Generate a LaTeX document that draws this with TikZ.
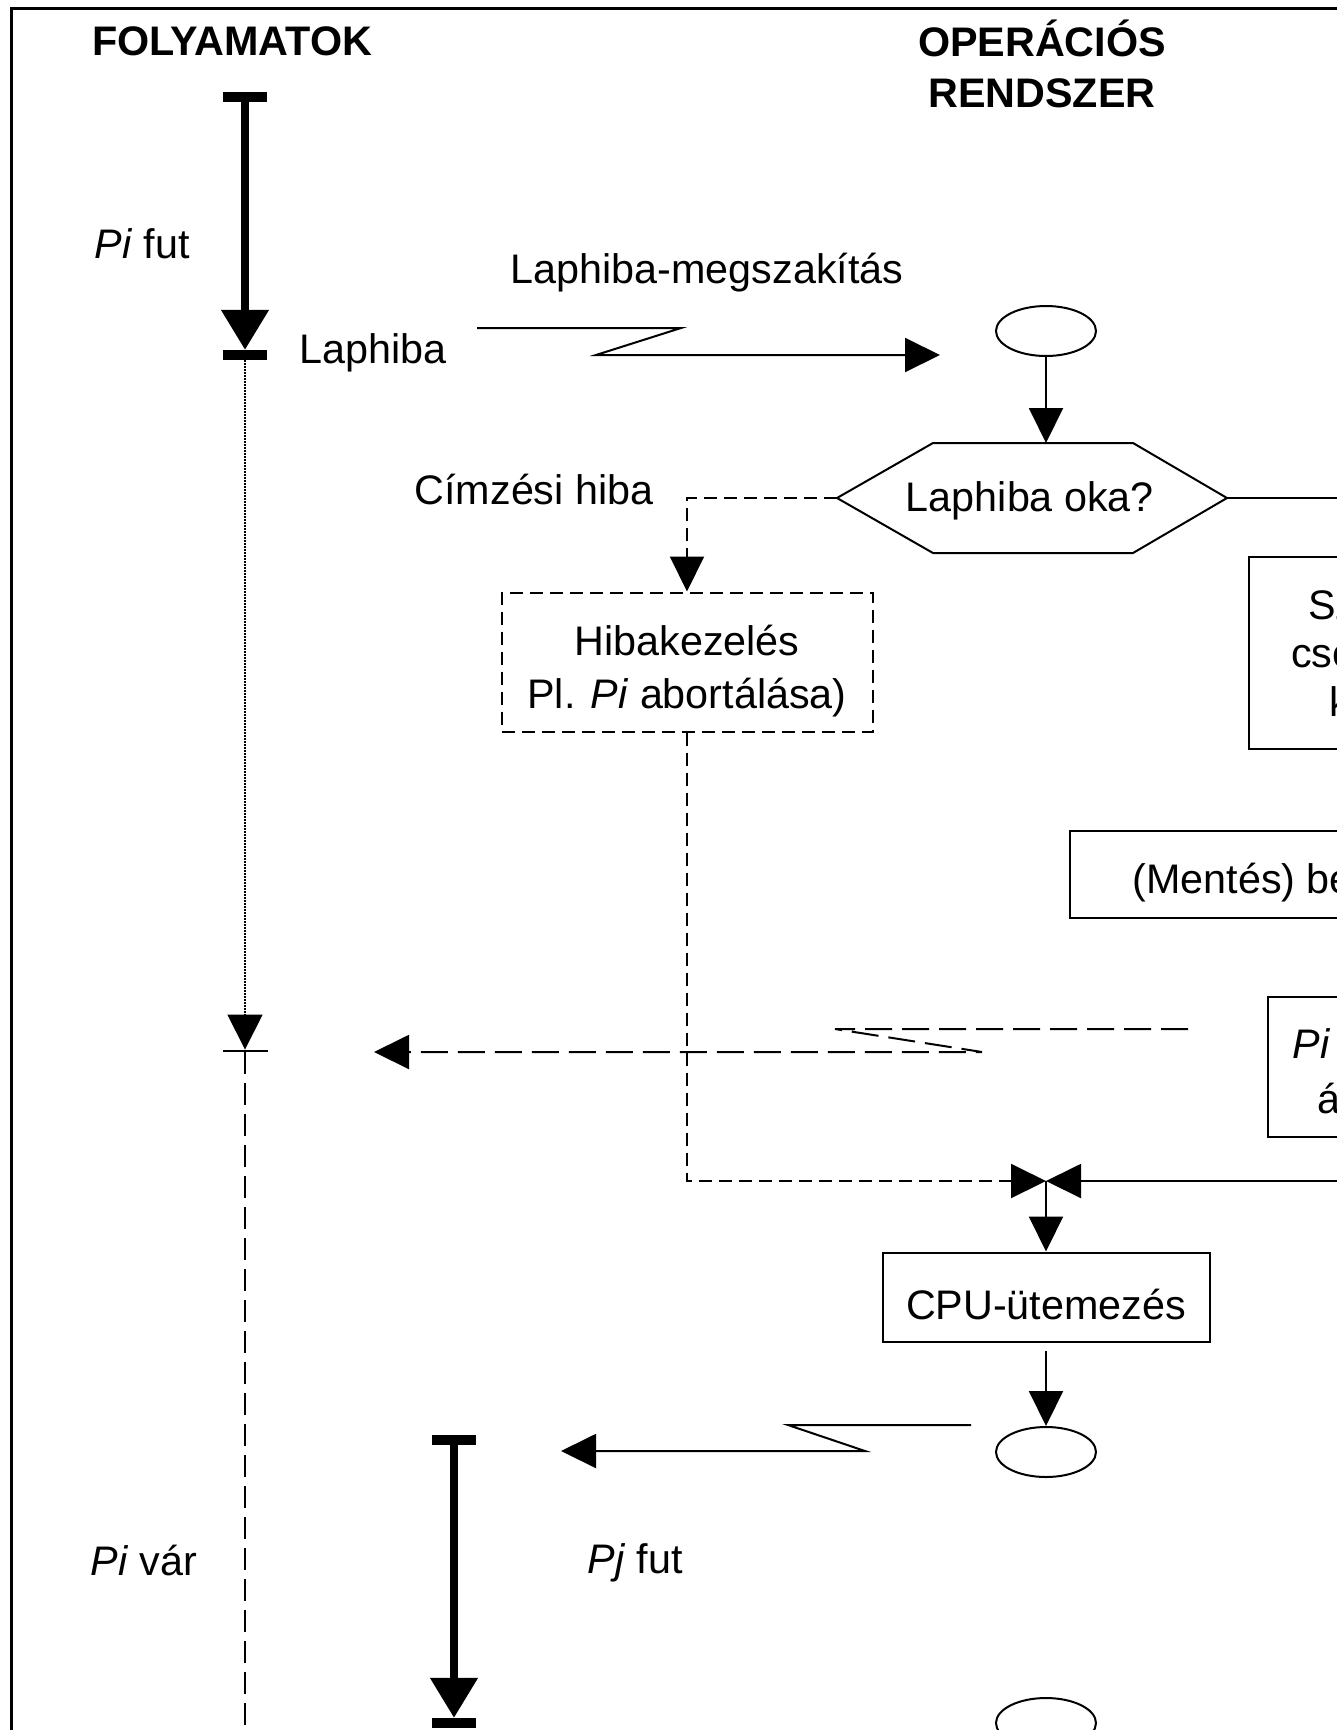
\documentclass[tikz,border=0pt]{standalone}
\usepackage{fontspec}
\setmainfont{Liberation Sans}
\usetikzlibrary{arrows.meta,shapes.geometric,positioning}

% box text, drawn a little lower than its frame's centre
\newcommand{\lowtext}[2]{\raisebox{#1}[\height][\depth]{#2}}
\newcommand{\boxlines}[3]{\lowtext{#1}{\begin{tabular}{@{}c@{}}#2\\#3\end{tabular}}}

\begin{document}
\begin{tikzpicture}[
        x=1pt, y=-1pt,
        every node/.style={font=\fontsize{41.3}{50}\selectfont},
        flow/.style={
                line width=2pt,
                -{Triangle[length=35pt,width=34pt]}
            },
        run line/.style={
                line width=8pt,
                -{Triangle[length=40pt,width=46pt]}
            },
        err line/.style={flow, dash pattern=on 13pt off 7pt},
        irq line/.style={flow, dash pattern=on 27pt off 10pt},
        proc box/.style={
                draw,
                line width=2pt,
                inner sep=0pt,
                align=center
            },
        err box/.style={proc box, dash pattern=on 13pt off 7pt},
        term/.style={
                draw,
                ellipse,
                line width=2pt,
                minimum width=100pt,
                minimum height=50pt,
                inner sep=0pt
            },
        stop bar/.style={
                fill=black,
                inner sep=0pt,
                minimum width=44pt,
                minimum height=10pt
            },
        head/.style={
                font=\fontsize{41.3}{51}\selectfont\bfseries,
                align=center
            }
    ]

    \useasboundingbox (0,0) rectangle (1337,1730);
    \clip (0,0) rectangle (1337,1730);

    % Frame
    \draw[line width=3pt] (11.5,1730) -- (11.5,8.5) -- (1337,8.5);

    % Column heads
    \node[head] (proc-head) at (232,41) {FOLYAMATOK};
    \node[head] (os-head) at (1042,64) {OPERÁCIÓS\\RENDSZER};

    % Process Pi
    \node[stop bar] (pi-start) at (245,97) {};
    \node[stop bar] (pi-fault) at (245,355) {};
    \node[fill=black, inner sep=0pt, minimum width=45pt, minimum height=2.5pt] (pi-resume) at (245,1051) {};
    \coordinate (pi-end) at (245,1730);
    \draw[run line] (pi-start) -- (pi-fault.north);
    \draw[line width=1.5pt, dash pattern=on 1.5pt off 1.5pt, -{Triangle[length=35pt,width=35pt]}] (pi-fault) -- (pi-resume.north);
    \draw[line width=2pt, dash pattern=on 22pt off 9pt] (pi-resume) -- (pi-end);
    \node[anchor=west] (pi-run-lbl) at (91,244) {\textit{Pi} fut};
    \node[anchor=west] (fault-lbl) at (296,353) {Laphiba};
    \node[anchor=west] (pi-wait-lbl) at (87,1560) {\textit{Pi} vár};

    % Process Pj
    \node[stop bar] (pj-start) at (454,1440) {};
    \node[stop bar] (pj-stop) at (454,1723) {};
    \draw[run line] (pj-start) -- (pj-stop.north);
    \node[anchor=west] (pj-run-lbl) at (584,1563) {\textit{Pj} fut};

    % Page fault interrupt
    \coordinate (irq-from) at (477,328);
    \coordinate (irq-to) at (940,355);
    \draw[flow] (irq-from) -- ++(204,0) -- ++(-85,27) -- (irq-to);
    \node (irq-lbl) at (707,273) {Laphiba-megszakítás};

    % OS side
    \node[term] (trap) at (1046,331) {};
    \node (cause) at (1030,501) {Laphiba oka?};
    \coordinate (cause-l) at (837,498);
    \coordinate (cause-r) at (1227,498);
    \coordinate (cause-top) at (1046,443);
    \draw[line width=2pt] (cause-l) -- (933,443) -- (1133,443) -- (cause-r)
        -- (1133,553) -- (933,553) -- cycle;
    \draw[flow] (trap) -- (cause-top);

    \node (addr-lbl) at (534,489) {Címzési hiba};
    \node[err box, minimum width=371pt, minimum height=139pt,
        font=\fontsize{41.3}{53}\selectfont] (fix) at (687,662)
        {\boxlines{-9pt}{Hibakezelés}{Pl. \textit{Pi} abortálása)}};
    \draw[err line] (cause-l) -| (fix.north);

    \node[proc box, minimum width=362pt, minimum height=192pt,
        font=\fontsize{41.3}{48.5}\selectfont] (swap) at (1430,653)
        {Szabad keret\\csere, ha nincs\\kiválasztás};
    \node[proc box, minimum width=445pt, minimum height=87pt] (load) at (1292,874)
        {\lowtext{-9pt}{(Mentés) betöltés}};
    \node[proc box, minimum width=266pt, minimum height=140pt,
        font=\fontsize{41.3}{55}\selectfont] (pi-block) at (1401,1067)
        {\boxlines{-8pt}{\textit{Pi} várakozó}{állapotba}};
    \draw[flow] (cause-r) -| (swap.north);
    \draw[flow] (swap.south) -- (swap.south |- load.north);
    \draw[flow] (pi-block.north |- load.south) -- (pi-block.north);

    % Pi goes to wait
    \coordinate (wait-from) at (1188,1029);
    \coordinate (wait-to) at (374,1052);
    \draw[irq line] (wait-from) -- ++(-353,0) -- ++(147,23) -- (wait-to);

    % Scheduling
    \coordinate (merge) at (1046,1181);
    \draw[err line] (fix.south) |- (merge);
    \draw[flow] (pi-block.south) |- (merge);
    \node[proc box, minimum width=327pt, minimum height=89pt] (cpu) at (1046,1297)
        {\lowtext{-7pt}{CPU-ütemezés}};
    \draw[flow] (merge) -- (cpu.north);
    \node[term] (resume) at (1046,1452) {};
    \draw[flow, shorten <=8pt] (cpu) -- (resume);
    \coordinate (disp-from) at (971,1425);
    \coordinate (disp-to) at (561,1451);
    \draw[flow] (disp-from) -- ++(-183,0) -- ++(77,26) -- (disp-to);
    \node[term] (next) at (1046,1723) {};

\end{tikzpicture}
\end{document}
